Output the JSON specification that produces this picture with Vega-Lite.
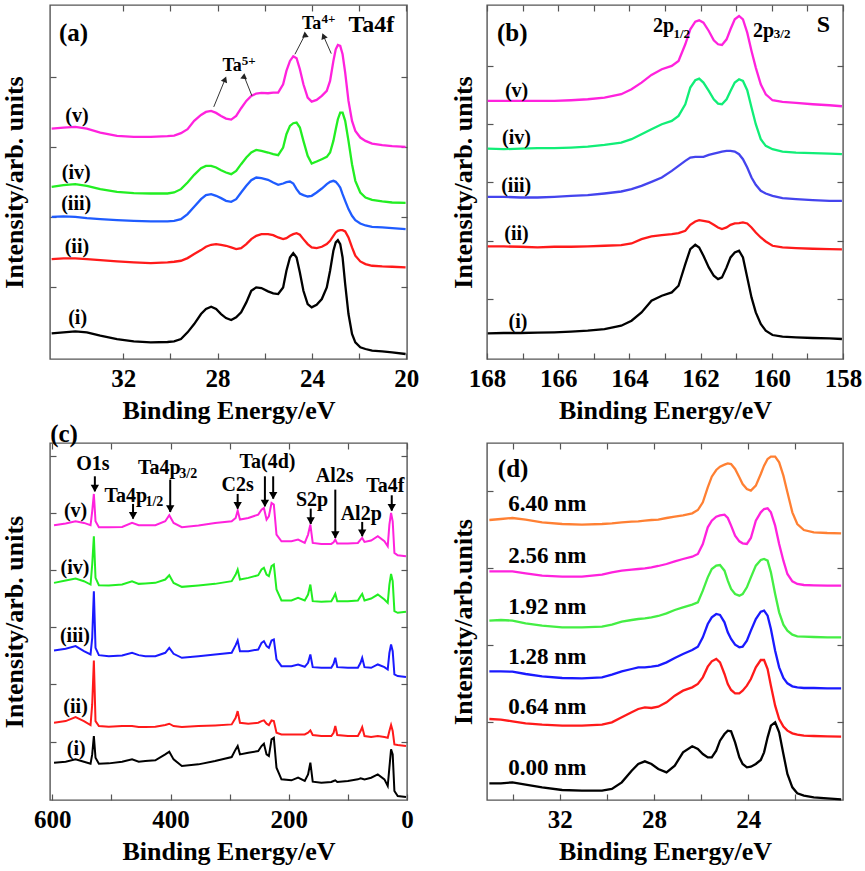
{
  "$schema": "https://vega.github.io/schema/vega-lite/v6.json",
  "description": "XPS spectra: (a) Ta4f, (b) S2p, (c) survey, (d) simulated Ta4f vs overlayer thickness",
  "background": "white",
  "padding": {"left": 0, "top": 3, "right": 5, "bottom": 5},
  "config": {
    "view": {"stroke": "#555", "strokeWidth": 1.4},
    "axis": {
      "domain": false, "grid": false, "tickColor": "#555", "tickWidth": 1.2, "tickSize": -6,
      "labelPadding": 13, "labelFlush": false, "labelOverlap": false,
      "labelFont": "Liberation Serif", "labelFontSize": 25, "labelFontWeight": "bold", "labelColor": "#000",
      "titleFont": "Liberation Serif", "titleFontSize": 26, "titleFontWeight": "bold", "titleColor": "#000",
      "titlePadding": 6
    },
    "text": {"font": "Liberation Serif", "fontWeight": "bold", "color": "#000"}
  },
  "datasets": {
    "ta4f": [
      {"E":35.03,"i":77,"ii":300,"iii":427,"iv":517,"v":692},
      {"E":34.53,"i":80,"ii":302,"iii":428,"iv":522,"v":695},
      {"E":34.03,"i":83,"ii":302,"iii":427,"iv":525,"v":697},
      {"E":33.54,"i":80,"ii":300,"iii":423,"iv":520,"v":692},
      {"E":32.97,"i":70,"ii":297,"iii":420,"iv":510,"v":680},
      {"E":32.26,"i":60,"ii":293,"iii":417,"iv":502,"v":670},
      {"E":31.55,"i":53,"ii":290,"iii":415,"iv":498,"v":667},
      {"E":30.83,"i":50,"ii":288,"iii":413,"iv":497,"v":667},
      {"E":30.12,"i":51,"ii":290,"iii":413,"iv":497,"v":669},
      {"E":29.84,"i":53,"ii":292,"iii":415,"iv":500,"v":671},
      {"E":29.55,"i":60,"ii":295,"iii":420,"iv":510,"v":678},
      {"E":29.27,"i":80,"ii":303,"iii":435,"iv":530,"v":690},
      {"E":28.99,"i":105,"ii":315,"iii":457,"iv":553,"v":715},
      {"E":28.70,"i":135,"ii":327,"iii":480,"iv":573,"v":733},
      {"E":28.49,"i":150,"ii":337,"iii":492,"iv":580,"v":742},
      {"E":28.27,"i":157,"ii":343,"iii":495,"iv":580,"v":745},
      {"E":28.06,"i":150,"ii":345,"iii":490,"iv":575,"v":739},
      {"E":27.85,"i":135,"ii":343,"iii":483,"iv":567,"v":730},
      {"E":27.64,"i":123,"ii":340,"iii":475,"iv":560,"v":722},
      {"E":27.42,"i":117,"ii":335,"iii":472,"iv":555,"v":719},
      {"E":27.21,"i":125,"ii":330,"iii":480,"iv":565,"v":730},
      {"E":27.00,"i":140,"ii":333,"iii":500,"iv":585,"v":753},
      {"E":26.78,"i":170,"ii":345,"iii":520,"iv":605,"v":775},
      {"E":26.57,"i":205,"ii":360,"iii":537,"iv":620,"v":790},
      {"E":26.36,"i":215,"ii":370,"iii":545,"iv":628,"v":797},
      {"E":26.14,"i":213,"ii":375,"iii":543,"iv":625,"v":799},
      {"E":25.86,"i":203,"ii":375,"iii":538,"iv":620,"v":798},
      {"E":25.64,"i":197,"ii":372,"iii":530,"iv":615,"v":800},
      {"E":25.43,"i":195,"ii":365,"iii":523,"iv":612,"v":800},
      {"E":25.22,"i":215,"ii":360,"iii":527,"iv":635,"v":825},
      {"E":25.08,"i":265,"ii":363,"iii":531,"iv":675,"v":865},
      {"E":24.93,"i":305,"ii":370,"iii":533,"iv":700,"v":895},
      {"E":24.79,"i":318,"ii":375,"iii":527,"iv":708,"v":909},
      {"E":24.65,"i":305,"ii":378,"iii":510,"iv":710,"v":903},
      {"E":24.51,"i":260,"ii":373,"iii":497,"iv":695,"v":870},
      {"E":24.36,"i":205,"ii":360,"iii":492,"iv":655,"v":825},
      {"E":24.18,"i":165,"ii":345,"iii":488,"iv":610,"v":785},
      {"E":24.01,"i":155,"ii":335,"iii":490,"iv":587,"v":773},
      {"E":23.80,"i":163,"ii":333,"iii":500,"iv":593,"v":778},
      {"E":23.58,"i":180,"ii":337,"iii":512,"iv":600,"v":790},
      {"E":23.37,"i":215,"ii":345,"iii":525,"iv":607,"v":805},
      {"E":23.23,"i":265,"ii":355,"iii":532,"iv":620,"v":835},
      {"E":23.09,"i":325,"ii":370,"iii":535,"iv":655,"v":895},
      {"E":22.99,"i":350,"ii":380,"iii":532,"iv":690,"v":930},
      {"E":22.90,"i":357,"ii":385,"iii":525,"iv":720,"v":943},
      {"E":22.80,"i":345,"ii":387,"iii":515,"iv":740,"v":940},
      {"E":22.70,"i":305,"ii":387,"iii":495,"iv":740,"v":915},
      {"E":22.59,"i":225,"ii":383,"iii":475,"iv":715,"v":860},
      {"E":22.45,"i":135,"ii":365,"iii":450,"iv":655,"v":775},
      {"E":22.30,"i":75,"ii":335,"iii":430,"iv":585,"v":715},
      {"E":22.16,"i":50,"ii":310,"iii":417,"iv":535,"v":685},
      {"E":21.95,"i":35,"ii":293,"iii":407,"iv":500,"v":665},
      {"E":21.73,"i":30,"ii":285,"iii":401,"iv":485,"v":655},
      {"E":21.45,"i":25,"ii":280,"iii":397,"iv":478,"v":647},
      {"E":21.02,"i":23,"ii":278,"iii":395,"iv":473,"v":642},
      {"E":20.60,"i":20,"ii":277,"iii":393,"iv":470,"v":639},
      {"E":20.03,"i":15,"ii":275,"iii":390,"iv":469,"v":637}
    ],
    "s2p": [
      {"E":167.98,"i":77,"ii":338,"iii":487,"iv":632,"v":775},
      {"E":167.53,"i":78,"ii":338,"iii":487,"iv":630,"v":775},
      {"E":167.06,"i":78,"ii":337,"iii":485,"iv":632,"v":775},
      {"E":166.58,"i":79,"ii":335,"iii":485,"iv":633,"v":775},
      {"E":166.11,"i":80,"ii":337,"iii":487,"iv":633,"v":775},
      {"E":165.64,"i":82,"ii":337,"iii":490,"iv":635,"v":777},
      {"E":165.17,"i":85,"ii":338,"iii":492,"iv":638,"v":780},
      {"E":164.70,"i":90,"ii":340,"iii":497,"iv":643,"v":785},
      {"E":164.23,"i":100,"ii":342,"iii":503,"iv":650,"v":795},
      {"E":163.94,"i":115,"ii":347,"iii":510,"iv":660,"v":810},
      {"E":163.66,"i":140,"ii":360,"iii":520,"iv":675,"v":830},
      {"E":163.38,"i":175,"ii":368,"iii":532,"iv":690,"v":853},
      {"E":163.09,"i":190,"ii":372,"iii":545,"iv":705,"v":870},
      {"E":162.81,"i":200,"ii":375,"iii":565,"iv":715,"v":880},
      {"E":162.62,"i":220,"ii":378,"iii":580,"iv":730,"v":895},
      {"E":162.43,"i":285,"ii":385,"iii":595,"iv":765,"v":945},
      {"E":162.29,"i":330,"ii":403,"iii":605,"iv":815,"v":990},
      {"E":162.15,"i":343,"ii":413,"iii":607,"iv":837,"v":1013},
      {"E":162.04,"i":335,"ii":417,"iii":607,"iv":842,"v":1017},
      {"E":161.92,"i":310,"ii":415,"iii":607,"iv":830,"v":1010},
      {"E":161.77,"i":275,"ii":412,"iii":613,"iv":805,"v":985},
      {"E":161.63,"i":250,"ii":403,"iii":617,"iv":780,"v":957},
      {"E":161.51,"i":240,"ii":395,"iii":620,"iv":767,"v":945},
      {"E":161.40,"i":245,"ii":390,"iii":623,"iv":765,"v":943},
      {"E":161.27,"i":275,"ii":395,"iii":625,"iv":780,"v":960},
      {"E":161.16,"i":305,"ii":403,"iii":625,"iv":805,"v":990},
      {"E":161.04,"i":320,"ii":407,"iii":623,"iv":830,"v":1020},
      {"E":160.92,"i":325,"ii":408,"iii":615,"iv":840,"v":1030},
      {"E":160.81,"i":305,"ii":410,"iii":600,"iv":835,"v":1020},
      {"E":160.69,"i":245,"ii":407,"iii":575,"iv":807,"v":980},
      {"E":160.57,"i":185,"ii":395,"iii":545,"iv":755,"v":925},
      {"E":160.45,"i":140,"ii":380,"iii":523,"iv":705,"v":875},
      {"E":160.31,"i":105,"ii":365,"iii":505,"iv":660,"v":825},
      {"E":160.17,"i":85,"ii":353,"iii":497,"iv":640,"v":795},
      {"E":159.98,"i":72,"ii":340,"iii":490,"iv":630,"v":777},
      {"E":159.70,"i":67,"ii":335,"iii":483,"iv":623,"v":772},
      {"E":159.32,"i":65,"ii":333,"iii":480,"iv":620,"v":769},
      {"E":158.85,"i":63,"ii":331,"iii":477,"iv":618,"v":765},
      {"E":158.38,"i":62,"ii":330,"iii":475,"iv":617,"v":762},
      {"E":158.03,"i":60,"ii":329,"iii":475,"iv":615,"v":759}
    ],
    "survey": [
      {"E":597.2,"i":112,"ii":232,"iii":449,"iv":652,"v":825},
      {"E":577.5,"i":115,"ii":237,"iii":454,"iv":659,"v":830},
      {"E":560.7,"i":122,"ii":249,"iii":462,"iv":665,"v":837},
      {"E":546.6,"i":115,"ii":237,"iii":447,"iv":657,"v":832},
      {"E":535.4,"i":109,"ii":225,"iii":437,"iv":647,"v":825},
      {"E":532.6,"i":137,"ii":287,"iii":487,"iv":707,"v":867},
      {"E":529.8,"i":192,"ii":419,"iii":627,"iv":792,"v":919},
      {"E":527.0,"i":127,"ii":237,"iii":457,"iv":667,"v":837},
      {"E":521.3,"i":109,"ii":222,"iii":435,"iv":645,"v":819},
      {"E":504.5,"i":110,"ii":220,"iii":432,"iv":644,"v":819},
      {"E":482.0,"i":115,"ii":222,"iii":434,"iv":647,"v":820},
      {"E":465.2,"i":122,"ii":222,"iii":442,"iv":657,"v":832},
      {"E":453.9,"i":115,"ii":219,"iii":435,"iv":649,"v":825},
      {"E":442.7,"i":117,"ii":219,"iii":432,"iv":650,"v":825},
      {"E":425.8,"i":119,"ii":220,"iii":432,"iv":652,"v":825},
      {"E":409.0,"i":137,"ii":225,"iii":442,"iv":662,"v":837},
      {"E":402.2,"i":145,"ii":229,"iii":457,"iv":675,"v":855},
      {"E":394.9,"i":122,"ii":222,"iii":439,"iv":652,"v":832},
      {"E":380.9,"i":102,"ii":219,"iii":427,"iv":640,"v":819},
      {"E":352.8,"i":107,"ii":222,"iii":432,"iv":644,"v":824},
      {"E":324.7,"i":117,"ii":224,"iii":437,"iv":649,"v":832},
      {"E":296.6,"i":129,"ii":227,"iii":442,"iv":657,"v":837},
      {"E":289.9,"i":152,"ii":247,"iii":465,"iv":677,"v":847},
      {"E":286.5,"i":162,"ii":267,"iii":479,"iv":692,"v":869},
      {"E":282.6,"i":137,"ii":232,"iii":447,"iv":662,"v":842},
      {"E":268.5,"i":142,"ii":229,"iii":447,"iv":667,"v":847},
      {"E":251.7,"i":147,"ii":232,"iii":452,"iv":675,"v":857},
      {"E":246.1,"i":162,"ii":237,"iii":472,"iv":692,"v":872},
      {"E":242.1,"i":169,"ii":239,"iii":477,"iv":697,"v":877},
      {"E":237.6,"i":137,"ii":229,"iii":462,"iv":677,"v":842},
      {"E":233.7,"i":132,"ii":225,"iii":457,"iv":672,"v":852},
      {"E":229.2,"i":182,"ii":239,"iii":479,"iv":702,"v":892},
      {"E":225.3,"i":187,"ii":237,"iii":482,"iv":707,"v":887},
      {"E":220.8,"i":97,"ii":202,"iii":422,"iv":632,"v":797},
      {"E":212.4,"i":62,"ii":197,"iii":402,"iv":599,"v":777},
      {"E":195.5,"i":59,"ii":197,"iii":402,"iv":599,"v":777},
      {"E":184.3,"i":67,"ii":197,"iii":407,"iv":607,"v":782},
      {"E":173.0,"i":57,"ii":197,"iii":400,"iv":599,"v":772},
      {"E":167.4,"i":77,"ii":202,"iii":412,"iv":617,"v":797},
      {"E":163.5,"i":112,"ii":209,"iii":437,"iv":647,"v":827},
      {"E":159.5,"i":55,"ii":195,"iii":399,"iv":597,"v":772},
      {"E":144.9,"i":52,"ii":192,"iii":397,"iv":595,"v":769},
      {"E":128.1,"i":54,"ii":192,"iii":397,"iv":597,"v":769},
      {"E":124.2,"i":57,"ii":202,"iii":409,"iv":609,"v":774},
      {"E":121.3,"i":59,"ii":222,"iii":427,"iv":619,"v":782},
      {"E":118.0,"i":54,"ii":195,"iii":399,"iv":597,"v":770},
      {"E":100.0,"i":57,"ii":192,"iii":397,"iv":597,"v":770},
      {"E":83.1,"i":62,"ii":192,"iii":397,"iv":599,"v":772},
      {"E":78.6,"i":65,"ii":207,"iii":412,"iv":612,"v":782},
      {"E":75.8,"i":64,"ii":219,"iii":427,"iv":619,"v":787},
      {"E":71.9,"i":62,"ii":192,"iii":399,"iv":599,"v":775},
      {"E":60.7,"i":67,"ii":189,"iii":397,"iv":605,"v":779},
      {"E":49.4,"i":77,"ii":192,"iii":407,"iv":617,"v":792},
      {"E":38.2,"i":62,"ii":189,"iii":399,"iv":602,"v":777},
      {"E":32.6,"i":42,"ii":187,"iii":392,"iv":592,"v":762},
      {"E":29.8,"i":97,"ii":207,"iii":442,"iv":647,"v":827},
      {"E":26.96,"i":152,"ii":225,"iii":467,"iv":679,"v":862},
      {"E":24.2,"i":137,"ii":207,"iii":447,"iv":657,"v":837},
      {"E":21.3,"i":27,"ii":167,"iii":377,"iv":567,"v":742},
      {"E":15.7,"i":12,"ii":165,"iii":372,"iv":562,"v":735},
      {"E":1.7,"i":9,"ii":162,"iii":369,"iv":565,"v":732}
    ],
    "sim": [
      {"E":34.99,"n0":50,"n1":243,"n2":386,"n3":538,"n4":686,"n5":840},
      {"E":34.50,"n0":50,"n1":241,"n2":386,"n3":540,"n4":686,"n5":843},
      {"E":34.01,"n0":53,"n1":236,"n2":385,"n3":538,"n4":686,"n5":846},
      {"E":33.45,"n0":46,"n1":230,"n2":378,"n3":530,"n4":680,"n5":841},
      {"E":32.75,"n0":38,"n1":226,"n2":371,"n3":523,"n4":673,"n5":833},
      {"E":31.90,"n0":30,"n1":223,"n2":366,"n3":518,"n4":670,"n5":828},
      {"E":31.06,"n0":28,"n1":223,"n2":365,"n3":518,"n4":670,"n5":826},
      {"E":30.21,"n0":28,"n1":226,"n2":368,"n3":520,"n4":676,"n5":828},
      {"E":29.79,"n0":33,"n1":233,"n2":376,"n3":526,"n4":683,"n5":830},
      {"E":29.37,"n0":53,"n1":248,"n2":386,"n3":535,"n4":688,"n5":833},
      {"E":28.95,"n0":88,"n1":263,"n2":393,"n3":540,"n4":691,"n5":835},
      {"E":28.67,"n0":108,"n1":273,"n2":398,"n3":543,"n4":693,"n5":836},
      {"E":28.39,"n0":116,"n1":278,"n2":398,"n3":545,"n4":695,"n5":838},
      {"E":28.11,"n0":108,"n1":276,"n2":400,"n3":548,"n4":698,"n5":840},
      {"E":27.82,"n0":93,"n1":280,"n2":403,"n3":552,"n4":702,"n5":841},
      {"E":27.47,"n0":83,"n1":293,"n2":413,"n3":560,"n4":708,"n5":846},
      {"E":27.12,"n0":103,"n1":313,"n2":426,"n3":570,"n4":716,"n5":850},
      {"E":26.77,"n0":143,"n1":328,"n2":438,"n3":578,"n4":723,"n5":854},
      {"E":26.38,"n0":161,"n1":338,"n2":450,"n3":586,"n4":730,"n5":860},
      {"E":26.14,"n0":153,"n1":348,"n2":460,"n3":593,"n4":738,"n5":870},
      {"E":25.93,"n0":138,"n1":368,"n2":488,"n3":628,"n4":768,"n5":893},
      {"E":25.72,"n0":128,"n1":400,"n2":528,"n3":668,"n4":818,"n5":938},
      {"E":25.55,"n0":128,"n1":416,"n2":548,"n3":693,"n4":838,"n5":970},
      {"E":25.36,"n0":148,"n1":423,"n2":558,"n3":703,"n4":850,"n5":990},
      {"E":25.20,"n0":178,"n1":413,"n2":555,"n3":705,"n4":854,"n5":1000},
      {"E":25.01,"n0":198,"n1":378,"n2":533,"n3":688,"n4":856,"n5":1006},
      {"E":24.87,"n0":208,"n1":348,"n2":503,"n3":658,"n4":846,"n5":1010},
      {"E":24.73,"n0":206,"n1":330,"n2":483,"n3":633,"n4":823,"n5":1008},
      {"E":24.56,"n0":173,"n1":320,"n2":466,"n3":618,"n4":793,"n5":993},
      {"E":24.38,"n0":128,"n1":320,"n2":458,"n3":613,"n4":776,"n5":968},
      {"E":24.24,"n0":108,"n1":328,"n2":460,"n3":618,"n4":770,"n5":948},
      {"E":24.06,"n0":98,"n1":343,"n2":478,"n3":638,"n4":768,"n5":933},
      {"E":23.89,"n0":100,"n1":363,"n2":508,"n3":668,"n4":786,"n5":928},
      {"E":23.68,"n0":108,"n1":398,"n2":543,"n3":703,"n4":838,"n5":943},
      {"E":23.47,"n0":120,"n1":420,"n2":565,"n3":720,"n4":863,"n5":978},
      {"E":23.33,"n0":143,"n1":420,"n2":568,"n3":723,"n4":873,"n5":1003},
      {"E":23.18,"n0":188,"n1":393,"n2":553,"n3":718,"n4":875,"n5":1023},
      {"E":23.04,"n0":223,"n1":343,"n2":513,"n3":683,"n4":863,"n5":1030},
      {"E":22.86,"n0":233,"n1":283,"n2":448,"n3":618,"n4":823,"n5":1030},
      {"E":22.69,"n0":203,"n1":243,"n2":398,"n3":563,"n4":768,"n5":1013},
      {"E":22.51,"n0":138,"n1":220,"n2":366,"n3":526,"n4":718,"n5":973},
      {"E":22.34,"n0":78,"n1":208,"n2":350,"n3":508,"n4":678,"n5":923},
      {"E":22.13,"n0":38,"n1":200,"n2":341,"n3":496,"n4":656,"n5":863},
      {"E":21.92,"n0":20,"n1":196,"n2":338,"n3":491,"n4":648,"n5":828},
      {"E":21.64,"n0":13,"n1":193,"n2":336,"n3":490,"n4":645,"n5":810},
      {"E":21.22,"n0":8,"n1":192,"n2":336,"n3":489,"n4":644,"n5":803},
      {"E":20.65,"n0":5,"n1":191,"n2":335,"n3":488,"n4":643,"n5":801},
      {"E":20.06,"n0":2,"n1":190,"n2":335,"n3":488,"n4":643,"n5":800}
    ],
    "notes": [
      {"p":"a","k":"tag","t":"(a)","E":34.10,"I":980},
      {"p":"a","k":"head","t":"Ta4f","E":21.48,"I":1003},
      {"p":"a","k":"ta","t":"Ta","E":24.01,"I":1005},
      {"p":"a","k":"tiny","t":"4+","E":23.30,"I":1020},
      {"p":"a","k":"ta","t":"Ta","E":27.38,"I":880},
      {"p":"a","k":"tiny","t":"5+","E":26.68,"I":895},
      {"p":"a","k":"curve","t":"(v)","E":33.96,"I":730},
      {"p":"a","k":"curve","t":"(iv)","E":33.99,"I":560},
      {"p":"a","k":"curve","t":"(iii)","E":33.99,"I":465},
      {"p":"a","k":"curve","t":"(ii)","E":33.96,"I":335},
      {"p":"a","k":"curve","t":"(i)","E":33.93,"I":123},
      {"p":"b","k":"tag","t":"(b)","E":167.29,"I":980},
      {"p":"b","k":"head","t":"S","E":158.55,"I":1003},
      {"p":"b","k":"peak","t":"2p","E":163.04,"I":1000},
      {"p":"b","k":"tiny","t":"1/2","E":162.53,"I":975},
      {"p":"b","k":"peak","t":"2p","E":160.23,"I":985},
      {"p":"b","k":"tiny","t":"3/2","E":159.71,"I":975},
      {"p":"b","k":"curve","t":"(v)","E":167.17,"I":805},
      {"p":"b","k":"curve","t":"(iv)","E":167.17,"I":665},
      {"p":"b","k":"curve","t":"(iii)","E":167.18,"I":520},
      {"p":"b","k":"curve","t":"(ii)","E":167.17,"I":375},
      {"p":"b","k":"curve","t":"(i)","E":167.13,"I":110},
      {"p":"c","k":"tag","t":"(c)","E":580.3,"I":1098},
      {"p":"c","k":"peak","t":"O1s","E":531.5,"I":1009},
      {"p":"c","k":"peak","t":"Ta4p","E":475.8,"I":912},
      {"p":"c","k":"sub","t":"1/2","E":427.5,"I":895},
      {"p":"c","k":"peak","t":"Ta4p","E":419.1,"I":997},
      {"p":"c","k":"sub","t":"3/2","E":370.2,"I":979},
      {"p":"c","k":"peak","t":"C2s","E":286.5,"I":945},
      {"p":"c","k":"peak","t":"Ta(4d)","E":236.0,"I":1015},
      {"p":"c","k":"peak","t":"S2p","E":160.7,"I":902},
      {"p":"c","k":"peak","t":"Al2s","E":122.5,"I":972},
      {"p":"c","k":"peak","t":"Al2p","E":77.5,"I":859},
      {"p":"c","k":"peak","t":"Ta4f","E":36.5,"I":942},
      {"p":"c","k":"curve","t":"(v)","E":560.7,"I":869},
      {"p":"c","k":"curve","t":"(iv)","E":561.8,"I":697},
      {"p":"c","k":"curve","t":"(iii)","E":561.8,"I":492},
      {"p":"c","k":"curve","t":"(ii)","E":560.7,"I":279},
      {"p":"c","k":"curve","t":"(i)","E":559.5,"I":152},
      {"p":"d","k":"tag","t":"(d)","E":33.98,"I":993},
      {"p":"d","k":"nm","t":"6.40 nm","E":32.53,"I":888},
      {"p":"d","k":"nm","t":"2.56 nm","E":32.53,"I":733},
      {"p":"d","k":"nm","t":"1.92 nm","E":32.53,"I":580},
      {"p":"d","k":"nm","t":"1.28 nm","E":32.53,"I":428},
      {"p":"d","k":"nm","t":"0.64 nm","E":32.53,"I":278},
      {"p":"d","k":"nm","t":"0.00 nm","E":32.53,"I":95}
    ],
    "arrows": [
      {"p":"a","id":"a1","E":28.16,"I":757,"E2":27.68,"I2":840},
      {"p":"a","id":"a2","E":26.54,"I":790,"E2":26.85,"I2":845},
      {"p":"a","id":"a3","E":24.72,"I":915,"E2":24.32,"I2":970},
      {"p":"a","id":"a4","E":23.18,"I":917,"E2":23.51,"I2":970},
      {"p":"c","id":"c1","E":528.1,"I":972,"E2":528.1,"I2":927},
      {"p":"c","id":"c2","E":463.5,"I":889,"E2":463.5,"I2":845},
      {"p":"c","id":"c3","E":400.6,"I":962,"E2":400.6,"I2":865},
      {"p":"c","id":"c4","E":286.5,"I":919,"E2":286.5,"I2":875},
      {"p":"c","id":"c5","E":240.4,"I":972,"E2":240.4,"I2":882},
      {"p":"c","id":"c6","E":226.4,"I":972,"E2":226.4,"I2":905},
      {"p":"c","id":"c7","E":162.9,"I":875,"E2":162.9,"I2":829},
      {"p":"c","id":"c8","E":121.3,"I":932,"E2":121.3,"I2":787},
      {"p":"c","id":"c9","E":75.8,"I":835,"E2":75.8,"I2":792},
      {"p":"c","id":"c10","E":25.8,"I":915,"E2":25.8,"I2":869}
    ]
  },
  "bounds": "flush",
  "columns": 2,
  "spacing": {"row": 84, "column": 80},
  "resolve": {"scale": {"x": "independent", "y": "independent", "color": "independent"}},
  "concat": [
    {
      "width": 357, "height": 354,
      "resolve": {"axis": {"x": "independent", "y": "independent"}},
      "layer": [
        {
          "data": {"name": "ta4f"},
          "transform": [{"fold": ["i", "ii", "iii", "iv", "v"], "as": ["s", "I"]}],
          "mark": {"type": "line", "strokeWidth": 2.3},
          "encoding": {
            "x": {"field": "E", "type": "quantitative", "scale": {"domain": [19.97, 35.1], "reverse": true, "nice": false, "zero": false},
              "axis": {"orient": "bottom", "title": "Binding Energy/eV", "values": [32, 30, 28, 26, 24, 22, 20], "labelExpr": "datum.value % 4 == 0 ? datum.label : ''"}},
            "y": {"field": "I", "type": "quantitative", "scale": {"domain": [0, 1063], "nice": false},
              "axis": {"orient": "left", "title": "Intensity/arb. units", "labels": false, "values": [215, 427, 637, 848], "titlePadding": 22}},
            "color": {"field": "s", "type": "nominal", "legend": null,
              "scale": {"domain": ["i", "ii", "iii", "iv", "v"], "range": ["#000000", "#ff1a1a", "#1f5cff", "#22ee22", "#ff22dd"]}}
          }
        },
        {
          "data": {"name": "ta4f"},
          "mark": {"type": "point", "opacity": 0},
          "encoding": {
            "x": {"field": "E", "type": "quantitative", "axis": {"orient": "top", "title": null, "labels": false, "values": [32, 30, 28, 26, 24, 22, 20]}},
            "y": {"field": "i", "type": "quantitative", "axis": {"orient": "right", "title": null, "labels": false, "values": [215, 427, 637, 848]}}
          }
        },
        {
          "data": {"name": "arrows"},
          "transform": [{"filter": "datum.p == 'a'"}],
          "mark": {"type": "rule", "color": "#333", "strokeWidth": 1},
          "encoding": {
            "x": {"field": "E", "type": "quantitative", "axis": null},
            "y": {"field": "I", "type": "quantitative", "axis": null},
            "x2": {"field": "E2"},
            "y2": {"field": "I2"}
          }
        },
        {
          "data": {"name": "arrows"},
          "transform": [{"filter": "datum.p == 'a'"}],
          "mark": {"type": "point", "shape": "triangle-up", "filled": true, "color": "#222", "opacity": 1, "size": 45},
          "encoding": {
            "x": {"field": "E2", "type": "quantitative", "axis": null},
            "y": {"field": "I2", "type": "quantitative", "axis": null},
            "angle": {"field": "id", "type": "nominal", "legend": null, "scale": {"domain": ["a1", "a2", "a3", "a4"], "range": [22, 338, 27, 337]}}
          }
        },
        {
          "data": {"name": "notes"},
          "transform": [{"filter": "datum.p == 'a'"}],
          "mark": {"type": "text", "baseline": "middle", "align": "center",
            "fontSize": {"expr": "datum.k == 'tag' ? 25 : datum.k == 'head' ? 24 : datum.k == 'ta' ? 18 : datum.k == 'tiny' ? 13 : datum.k == 'sub' ? 14 : datum.k == 'nm' ? 23 : 20"}},
          "encoding": {
            "x": {"field": "E", "type": "quantitative", "axis": null},
            "y": {"field": "I", "type": "quantitative", "axis": null},
            "text": {"field": "t"}
          }
        }
      ]
    },
    {
      "width": 356, "height": 354,
      "resolve": {"axis": {"x": "independent", "y": "independent"}},
      "layer": [
        {
          "data": {"name": "s2p"},
          "transform": [{"fold": ["i", "ii", "iii", "iv", "v"], "as": ["s", "I"]}],
          "mark": {"type": "line", "strokeWidth": 2.3},
          "encoding": {
            "x": {"field": "E", "type": "quantitative", "scale": {"domain": [158, 168], "reverse": true, "nice": false, "zero": false},
              "axis": {"orient": "bottom", "title": "Binding Energy/eV", "values": [168, 167, 166, 165, 164, 163, 162, 161, 160, 159, 158], "labelExpr": "datum.value % 2 == 0 ? datum.label : ''"}},
            "y": {"field": "I", "type": "quantitative", "scale": {"domain": [0, 1063], "nice": false},
              "axis": {"orient": "left", "title": "Intensity/arb. units", "labels": false, "values": [180, 355, 530, 707, 880], "titlePadding": 10}},
            "color": {"field": "s", "type": "nominal", "legend": null,
              "scale": {"domain": ["i", "ii", "iii", "iv", "v"], "range": ["#000000", "#ff1a1a", "#4444ee", "#11ee77", "#ff22dd"]}}
          }
        },
        {
          "data": {"name": "s2p"},
          "mark": {"type": "point", "opacity": 0},
          "encoding": {
            "x": {"field": "E", "type": "quantitative", "axis": {"orient": "top", "title": null, "labels": false, "values": [168, 167, 166, 165, 164, 163, 162, 161, 160, 159, 158]}},
            "y": {"field": "i", "type": "quantitative", "axis": {"orient": "right", "title": null, "labels": false, "values": [180, 355, 530, 707, 880]}}
          }
        },
        {
          "data": {"name": "notes"},
          "transform": [{"filter": "datum.p == 'b'"}],
          "mark": {"type": "text", "baseline": "middle", "align": "center",
            "fontSize": {"expr": "datum.k == 'tag' ? 25 : datum.k == 'head' ? 24 : datum.k == 'ta' ? 18 : datum.k == 'tiny' ? 13 : datum.k == 'sub' ? 14 : datum.k == 'nm' ? 23 : 20"}},
          "encoding": {
            "x": {"field": "E", "type": "quantitative", "axis": null},
            "y": {"field": "I", "type": "quantitative", "axis": null},
            "text": {"field": "t"}
          }
        }
      ]
    },
    {
      "width": 357, "height": 357,
      "resolve": {"axis": {"x": "independent", "y": "independent"}},
      "layer": [
        {
          "data": {"name": "survey"},
          "transform": [{"fold": ["i", "ii", "iii", "iv", "v"], "as": ["s", "I"]}],
          "mark": {"type": "line", "strokeWidth": 2},
          "encoding": {
            "x": {"field": "E", "type": "quantitative", "scale": {"domain": [0, 604], "reverse": true, "nice": false, "zero": false},
              "axis": {"orient": "bottom", "title": "Binding Energy/eV", "values": [600, 500, 400, 300, 200, 100, 0], "labelExpr": "datum.value % 200 == 0 ? datum.label : ''"}},
            "y": {"field": "I", "type": "quantitative", "scale": {"domain": [0, 1072], "nice": false},
              "axis": {"orient": "left", "title": "Intensity/arb. units", "labels": false, "values": [175, 347, 518, 690, 862, 1032], "titlePadding": 22}},
            "color": {"field": "s", "type": "nominal", "legend": null,
              "scale": {"domain": ["i", "ii", "iii", "iv", "v"], "range": ["#000000", "#ff1a1a", "#1a1aff", "#22ee22", "#ff22dd"]}}
          }
        },
        {
          "data": {"name": "survey"},
          "mark": {"type": "point", "opacity": 0},
          "encoding": {
            "x": {"field": "E", "type": "quantitative", "axis": {"orient": "top", "title": null, "labels": false, "values": [600, 500, 400, 300, 200, 100, 0]}},
            "y": {"field": "i", "type": "quantitative", "axis": {"orient": "right", "title": null, "labels": false, "values": [175, 347, 518, 690, 862, 1032]}}
          }
        },
        {
          "data": {"name": "arrows"},
          "transform": [{"filter": "datum.p == 'c'"}],
          "mark": {"type": "rule", "color": "#000", "strokeWidth": 2},
          "encoding": {
            "x": {"field": "E", "type": "quantitative", "axis": null},
            "y": {"field": "I", "type": "quantitative", "axis": null},
            "x2": {"field": "E2"},
            "y2": {"field": "I2"}
          }
        },
        {
          "data": {"name": "arrows"},
          "transform": [{"filter": "datum.p == 'c'"}],
          "mark": {"type": "point", "shape": "triangle-down", "filled": true, "color": "#000", "opacity": 1, "size": 70, "yOffset": -3},
          "encoding": {
            "x": {"field": "E2", "type": "quantitative", "axis": null},
            "y": {"field": "I2", "type": "quantitative", "axis": null}
          }
        },
        {
          "data": {"name": "notes"},
          "transform": [{"filter": "datum.p == 'c'"}],
          "mark": {"type": "text", "baseline": "middle", "align": "center",
            "fontSize": {"expr": "datum.k == 'tag' ? 25 : datum.k == 'head' ? 24 : datum.k == 'ta' ? 18 : datum.k == 'tiny' ? 13 : datum.k == 'sub' ? 14 : datum.k == 'nm' ? 23 : 20"}},
          "encoding": {
            "x": {"field": "E", "type": "quantitative", "axis": null},
            "y": {"field": "I", "type": "quantitative", "axis": null},
            "text": {"field": "t"}
          }
        }
      ]
    },
    {
      "width": 356, "height": 357,
      "resolve": {"axis": {"x": "independent", "y": "independent"}},
      "layer": [
        {
          "data": {"name": "sim"},
          "transform": [{"fold": ["n0", "n1", "n2", "n3", "n4", "n5"], "as": ["s", "I"]}],
          "mark": {"type": "line", "strokeWidth": 2.3},
          "encoding": {
            "x": {"field": "E", "type": "quantitative", "scale": {"domain": [19.98, 35.09], "reverse": true, "nice": false, "zero": false},
              "axis": {"orient": "bottom", "title": "Binding Energy/eV", "values": [34, 32, 30, 28, 26, 24, 22], "labelExpr": "datum.value % 4 == 0 ? datum.label : ''"}},
            "y": {"field": "I", "type": "quantitative", "scale": {"domain": [0, 1071], "nice": false},
              "axis": {"orient": "left", "title": "Intensity/arb.units", "labels": false, "values": [233, 465, 696, 928], "titlePadding": 10}},
            "color": {"field": "s", "type": "nominal", "legend": null,
              "scale": {"domain": ["n0", "n1", "n2", "n3", "n4", "n5"], "range": ["#000000", "#ff1a1a", "#1a1aff", "#44ee44", "#ff22dd", "#ff8033"]}}
          }
        },
        {
          "data": {"name": "sim"},
          "mark": {"type": "point", "opacity": 0},
          "encoding": {
            "x": {"field": "E", "type": "quantitative", "axis": {"orient": "top", "title": null, "labels": false, "values": [34, 32, 30, 28, 26, 24, 22]}},
            "y": {"field": "n0", "type": "quantitative", "axis": {"orient": "right", "title": null, "labels": false, "values": [233, 465, 696, 928]}}
          }
        },
        {
          "data": {"name": "notes"},
          "transform": [{"filter": "datum.p == 'd'"}],
          "mark": {"type": "text", "baseline": "middle", "align": "center",
            "fontSize": {"expr": "datum.k == 'tag' ? 25 : datum.k == 'head' ? 24 : datum.k == 'ta' ? 18 : datum.k == 'tiny' ? 13 : datum.k == 'sub' ? 14 : datum.k == 'nm' ? 23 : 20"}},
          "encoding": {
            "x": {"field": "E", "type": "quantitative", "axis": null},
            "y": {"field": "I", "type": "quantitative", "axis": null},
            "text": {"field": "t"}
          }
        }
      ]
    }
  ]
}
